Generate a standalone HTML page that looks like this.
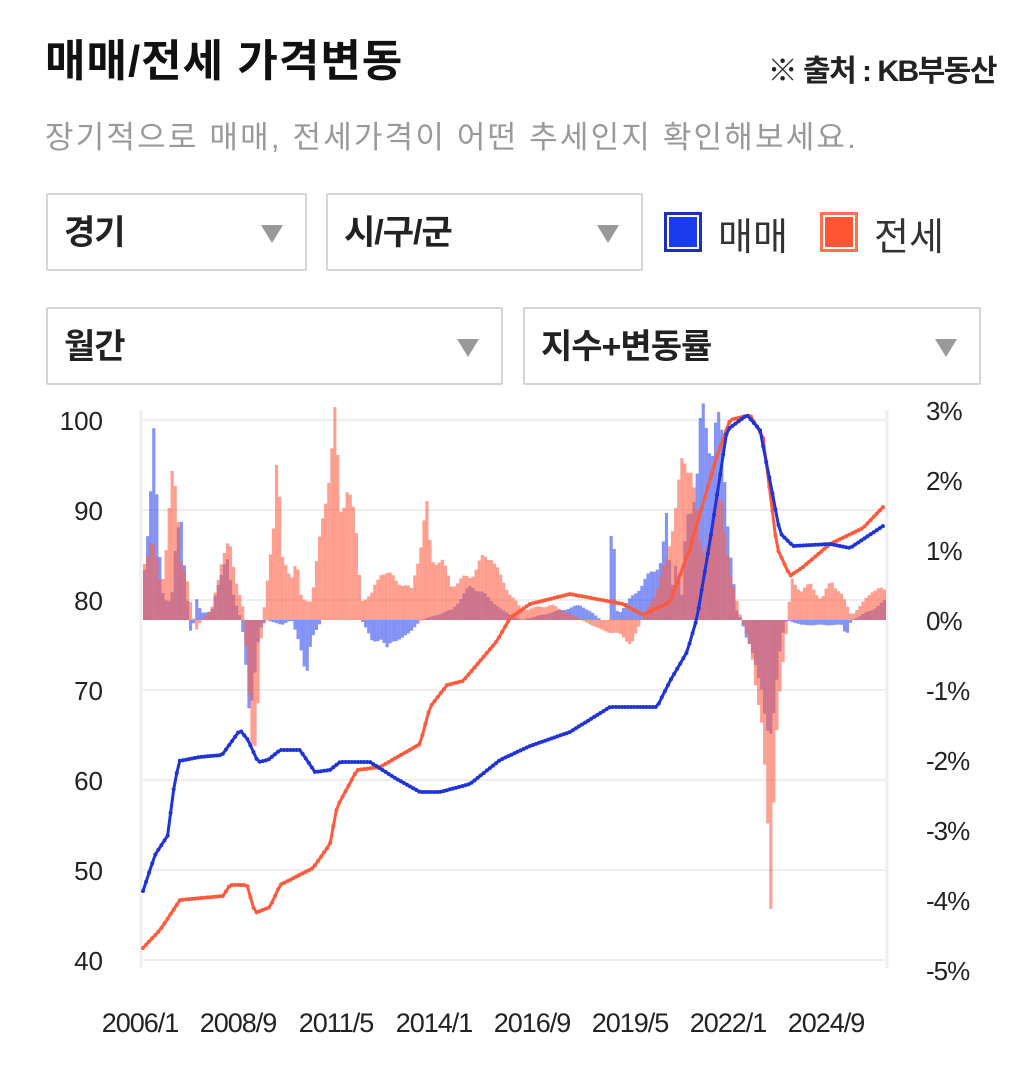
<!DOCTYPE html>
<html><head><meta charset="utf-8"><style>
body{margin:0;width:1026px;height:1074px;background:#fff;overflow:hidden;font-family:"Liberation Sans","Noto Sans CJK KR",sans-serif;position:relative}
.a{position:absolute;white-space:nowrap}
.t{left:45px;top:25px;font-size:44px;font-weight:bold;color:#111;letter-spacing:1px}
.src{right:30px;top:46px;font-size:30px;font-weight:bold;color:#222;letter-spacing:-1.5px}
.sub{left:45px;top:112px;font-size:31px;color:#999;letter-spacing:2.2px}
.box{position:absolute;border:2px solid #d4d4d4;border-radius:2px;box-sizing:border-box;font-size:34px;font-weight:bold;color:#222;padding-left:16px;letter-spacing:-1px}
.box:after{content:"";position:absolute;right:22px;top:30px;border-left:11px solid transparent;border-right:11px solid transparent;border-top:18px solid #999}
.lg{position:absolute;width:38px;height:40px;box-sizing:border-box;border:3px solid;box-shadow:inset 0 0 0 2px #fff}
</style></head><body>
<div class="a t">매매/전세 가격변동</div>
<div class="a src">※ 출처 : KB부동산</div>
<div class="a sub">장기적으로 매매, 전세가격이 어떤 추세인지 확인해보세요.</div>
<div class="box" style="left:46px;top:193px;width:261px;height:78px;line-height:76px">경기</div>
<div class="box" style="left:326px;top:193px;width:317px;height:78px;line-height:76px">시/구/군</div>
<div class="lg" style="left:664px;top:212px;background:#1a3cf0;border-color:#1a2fc0"></div>
<div class="a" style="left:718px;top:206px;font-size:38px;color:#333">매매</div>
<div class="lg" style="left:820px;top:212px;background:#ff5533;border-color:#ff7050"></div>
<div class="a" style="left:874px;top:206px;font-size:38px;color:#333">전세</div>
<div class="box" style="left:46px;top:307px;width:457px;height:78px;line-height:76px">월간</div>
<div class="box" style="left:523px;top:307px;width:458px;height:78px;line-height:76px">지수+변동률</div>
<svg id="s" class="a" style="left:0;top:0" width="1026" height="1074" font-family="Liberation Sans, sans-serif"></svg>
<script>
var s=document.getElementById('s'),h='';
for(var i=0;i<7;i++){var y=420+i*90;h+='<line x1="140" x2="885" y1="'+y+'" y2="'+y+'" stroke="#eee" stroke-width="2"/>';
h+='<text x="103" y="'+(y+10)+'" font-size="26" text-anchor="end" fill="#222">'+(100-i*10)+'</text>';}
h+='<line x1="141" x2="141" y1="410" y2="968" stroke="#eee" stroke-width="3"/><line x1="887" x2="887" y1="410" y2="968" stroke="#eee" stroke-width="3"/>';
var rl=['3%','2%','1%','0%','-1%','-2%','-3%','-4%','-5%'];
for(i=0;i<9;i++)h+='<text x="926" y="'+(420+i*70)+'" font-size="26" fill="#222" letter-spacing="-1">'+rl[i]+'</text>';
var xl=['2006/1','2008/9','2011/5','2014/1','2016/9','2019/5','2022/1','2024/9'];
for(i=0;i<8;i++)h+='<text x="'+(140+i*98)+'" y="1032" font-size="27" text-anchor="middle" fill="#222" letter-spacing="-1">'+xl[i]+'</text>';
function ip(p,x){if(x<=p[0][0])return p[0][1];for(var k=1;k<p.length;k++)if(x<=p[k][0]){var a=p[k-1],b=p[k];return a[1]+(b[1]-a[1])*(x-a[0])/(b[0]-a[0]);}return p[p.length-1][1];}
var bb=[[143,570],[148,505],[152,423],[156,520],[160,590],[165,600],[170,600],[175,540],[180,520],[185,590],[190,640],[195,600],[200,612],[210,612],[220,570],[225,555],[230,590],[240,620],[245,670],[248,710],[252,690],[258,630],[265,620],[280,625],[290,620],[300,650],[305,675],[310,640],[320,620],[330,620],[360,620],[370,640],[380,640],[385,650],[390,640],[400,640],[410,630],[420,620],[450,610],[470,585],[490,600],[500,610],[520,620],[580,605],[600,620],[608,620],[610,525],[613,555],[616,615],[660,560],[665,520],[670,590],[675,555],[680,600],[685,520],[690,505],[695,480],[700,412],[705,430],[710,450],[715,415],[720,440],[725,505],[730,560],[735,610],[740,620],[745,640],[750,650],[755,665],[760,690],[765,740],[770,730],[775,680],[780,640],[785,620],[800,625],[820,625],[840,625],[845,635],[850,620],[870,610],[885,600]];
var rb=[[143,560],[150,540],[155,560],[160,590],[165,540],[170,478],[175,500],[180,560],[185,575],[190,610],[195,630],[200,620],[210,610],[220,560],[228,545],[235,580],[242,610],[248,700],[252,780],[256,720],[260,630],[265,590],[272,520],[276,440],[280,560],[290,575],[295,560],[300,600],[310,600],[320,528],[330,450],[333,415],[340,520],[345,480],[350,500],[355,540],[360,600],[370,595],[380,570],[395,580],[410,590],[420,540],[425,505],[430,560],[440,560],[450,585],[470,575],[480,560],[490,555],[500,580],[520,610],[550,605],[580,620],[600,630],[620,635],[630,645],[640,620],[655,590],[665,560],[680,470],[690,460],[700,560],[710,520],[720,500],[730,580],[740,620],[750,650],[760,730],[765,800],[768,850],[770,910],[773,760],[780,680],[790,580],[800,590],[810,585],[820,600],[830,580],[840,595],[850,615],[860,605],[870,590],[885,590]];
function bars(p,c,ph){var o='';for(var x=143;x<884;x+=3.07){var j=Math.sin(x*1.7+ph)*0.08+1,y=620+(ip(p,x)-620)*j;o+='<rect x="'+x.toFixed(1)+'" width="3.1" y="'+Math.min(y,620).toFixed(1)+'" height="'+Math.abs(y-620).toFixed(1)+'" fill="'+c+'"/>';}return o;}
h+=bars(bb,'rgba(50,75,240,0.6)',2);h+=bars(rb,'rgba(255,95,70,0.6)',1);
var bl=[[143,891],[155,855],[168,835],[173,793],[179,761],[200,757],[222,755],[240,730],[248,740],[258,762],[268,760],[280,750],[300,750],[315,772],[330,770],[340,762],[370,762],[395,778],[420,792],[440,792],[470,784],[500,760],[530,746],[570,732],[610,707],[657,707],[670,681],[687,652],[697,618],[710,541],[727,430],[747,415],[760,430],[770,481],[780,533],[793,546],[830,544],[850,548],[883,526]];
var rd=[[143,948],[160,930],[170,915],[180,900],[223,896],[230,885],[247,885],[255,913],[270,907],[280,885],[313,868],[330,844],[337,807],[357,770],[380,767],[420,744],[430,707],[447,685],[463,681],[497,641],[510,618],[530,604],[570,594],[623,604],[643,615],[670,602],[690,548],[717,456],[730,420],[750,415],[763,437],[777,548],[790,576],[803,567],[830,544],[863,528],[883,507]];
function line(p,c){var d='',dots='';for(var x=143;x<=884;x+=3.07){var y=ip(p,x);d+=(d?'L':'M')+x.toFixed(1)+','+y.toFixed(1);dots+='<circle cx="'+x.toFixed(1)+'" cy="'+y.toFixed(1)+'" r="2" fill="'+c+'"/>';}return '<path d="'+d+'" fill="none" stroke="'+c+'" stroke-width="3" stroke-linejoin="round"/>'+dots;}
h+=line(rd,'#ff5a3c');h+=line(bl,'#1f34d6');
s.innerHTML=h;
</script>
</body></html>
